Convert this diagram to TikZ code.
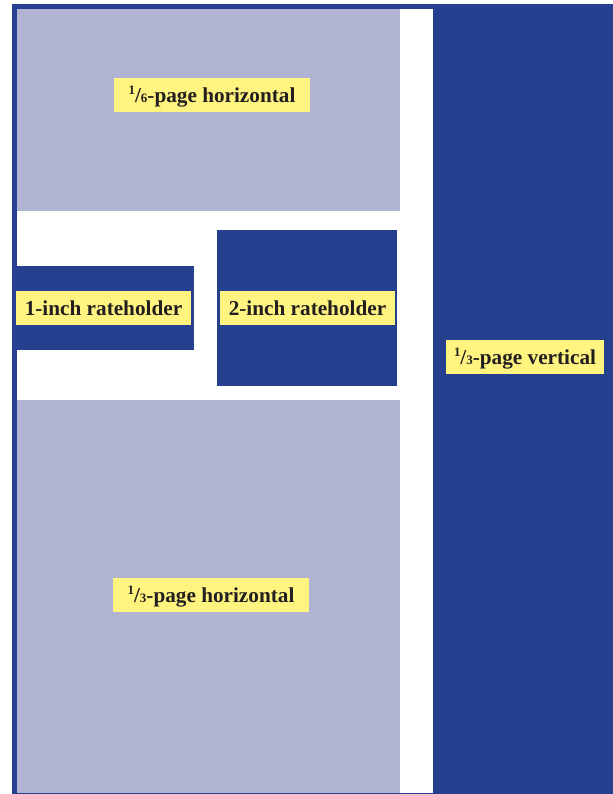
\documentclass[tikz,border=0pt]{standalone}
\usepackage{fontspec}
\setmainfont{Liberation Serif}
\definecolor{adblue}{HTML}{24408E}
\definecolor{adlight}{HTML}{B1B3D3}
\definecolor{adyellow}{HTML}{FFF47F}
\definecolor{adtext}{HTML}{231F20}
\newcommand{\myfrac}[2]{\smash{\raisebox{0.34em}{\fontsize{13}{13}\selectfont #1}}/{\fontsize{13}{13}\selectfont #2}}
\tikzset{
  lbl/.style={fill=adyellow, text=adtext, inner sep=0pt, minimum height=34bp,
    text height=17bp, text depth=3bp,
    font=\fontsize{21.3}{24}\selectfont\bfseries, anchor=center},
}
\begin{document}
\begin{tikzpicture}[x=1bp,y=-1bp]
\useasboundingbox (0,0) rectangle (613,794);
\fill[white] (0,0) rectangle (613,794);
% blue background
\fill[adblue] (12,4) rectangle (613,794);
% white column
\fill[white] (17,9) rectangle (433,793);
% light rectangles
\fill[adlight] (17,9) rectangle (400,211);
\fill[adlight] (17,400) rectangle (400,793);
% rateholders
\fill[adblue] (12,266) rectangle (194,350);
\fill[adblue] (217,230) rectangle (397,386);
% labels
\node[lbl, minimum width=196bp] (sixth) at (212,95) {\myfrac{1}{6}-page horizontal};
\node[lbl, minimum width=196bp] (third) at (211,595) {\myfrac{1}{3}-page horizontal};
\node[lbl, minimum width=175bp] (one) at (103.5,308) {1-inch rateholder};
\node[lbl, minimum width=175bp] (two) at (307.5,308) {2-inch rateholder};
\node[lbl, minimum width=158bp] (vert) at (525,357) {\myfrac{1}{3}-page vertical};
\end{tikzpicture}
\end{document}
